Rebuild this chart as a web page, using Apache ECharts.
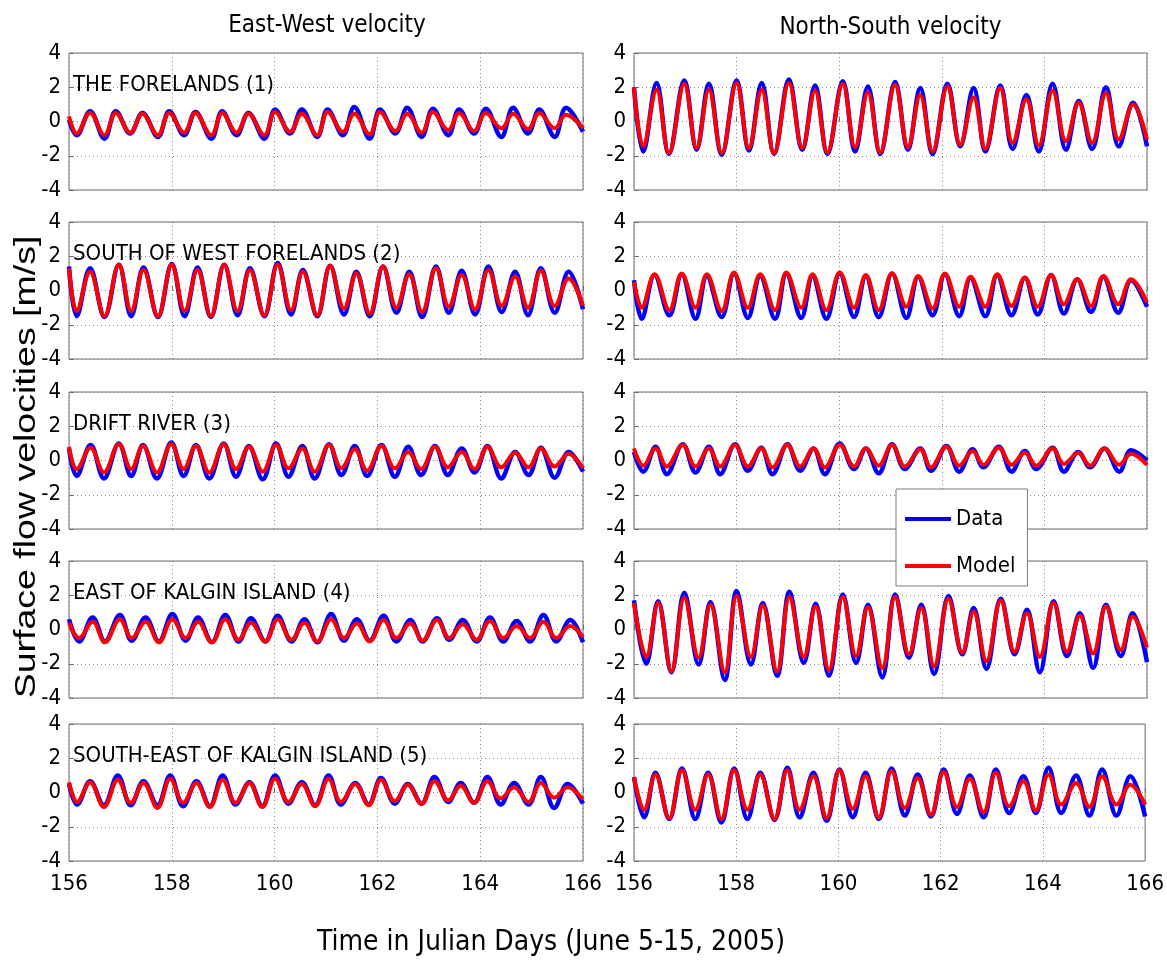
<!DOCTYPE html>
<html><head><meta charset="utf-8">
<script src="https://cdn.jsdelivr.net/npm/echarts@6/dist/echarts.min.js"></script>
<style>html,body{margin:0;padding:0;background:#fff}#c{width:1167px;height:967px}</style>
</head><body><div id="c"></div>
<script>
// ---- tick labels / text ----
const xTicks = [156, 158, 160, 162, 164, 166];
const yTicks = [-4, -2, 0, 2, 4];
const columnTitles = ['East-West velocity', 'North-South velocity'];
const stationNames = ['THE FORELANDS (1)', 'SOUTH OF WEST FORELANDS (2)', 'DRIFT RIVER (3)', 'EAST OF KALGIN ISLAND (4)', 'SOUTH-EAST OF KALGIN ISLAND (5)'];
const seriesNames = ['Data', 'Model'];

// ---- values: times (Julian day) of successive highs/lows, Data and Model velocities [m/s] ----
// Station 1, East-West
const tEW1 = [156.00,156.15,156.41,156.69,156.91,157.19,157.43,157.73,157.95,158.24,158.46,158.77,158.98,159.26,159.49,159.80,160.01,160.30,160.53,160.83,161.03,161.33,161.55,161.85,162.05,162.35,162.58,162.86,163.08,163.38,163.59,163.88,164.11,164.41,164.64,164.93,165.15,165.45,165.67,166.00];
const mEW1 = [0.3,-0.7,0.5,-0.8,0.5,-0.65,0.45,-0.8,0.5,-0.65,0.5,-0.8,0.5,-0.65,0.45,-0.8,0.55,-0.6,0.45,-0.8,0.55,-0.6,0.45,-0.75,0.55,-0.55,0.45,-0.65,0.55,-0.5,0.5,-0.55,0.5,-0.4,0.45,-0.45,0.5,-0.4,0.4,-0.4];
const dEW1 = [0.1,-0.8,0.6,-1.0,0.6,-0.7,0.5,-0.9,0.6,-0.8,0.55,-1.0,0.6,-0.8,0.5,-1.0,0.7,-0.7,0.7,-0.9,0.7,-0.8,0.85,-1.0,0.7,-0.7,0.8,-0.9,0.75,-0.8,0.7,-0.7,0.75,-0.9,0.8,-0.7,0.7,-0.9,0.8,-0.6];
// Station 1, North-South
const tNS1 = [156.00,156.18,156.44,156.68,156.98,157.22,157.46,157.71,158.00,158.24,158.49,158.73,159.02,159.28,159.53,159.77,160.07,160.31,160.56,160.80,161.09,161.34,161.58,161.82,162.11,162.36,162.62,162.85,163.14,163.38,163.65,163.89,164.16,164.42,164.67,164.93,165.20,165.45,165.73,166.00];
const mNS1 = [2.0,-1.45,1.85,-1.85,2.2,-1.55,1.85,-1.85,2.25,-1.55,1.85,-1.85,2.25,-1.55,1.8,-1.8,2.2,-1.5,1.7,-1.8,2.15,-1.5,1.55,-1.75,2.05,-1.35,1.4,-1.6,1.95,-1.25,1.3,-1.4,1.8,-1.15,1.1,-1.25,1.65,-1.05,1.0,-1.05];
const dNS1 = [2.0,-1.75,2.25,-1.9,2.4,-1.65,2.2,-1.95,2.4,-1.7,2.25,-1.9,2.45,-1.65,2.1,-1.9,2.35,-1.75,2.05,-1.9,2.3,-1.65,1.95,-1.9,2.2,-1.45,1.95,-1.75,2.1,-1.6,1.55,-1.75,2.2,-1.65,1.2,-1.6,2.0,-1.45,1.1,-1.45];
// Station 2, East-West
const tEW2 = [156.00,156.15,156.41,156.69,156.97,157.21,157.45,157.73,158.00,158.25,158.50,158.76,159.02,159.28,159.52,159.80,160.06,160.32,160.55,160.83,161.08,161.35,161.59,161.85,162.11,162.37,162.62,162.87,163.14,163.39,163.64,163.90,164.16,164.42,164.68,164.93,165.18,165.45,165.72,166.00];
const mEW2 = [1.3,-1.2,1.1,-1.5,1.5,-1.2,1.2,-1.5,1.5,-1.2,1.2,-1.5,1.5,-1.2,1.2,-1.45,1.5,-1.15,1.1,-1.45,1.45,-1.05,1.0,-1.35,1.4,-1.0,0.95,-1.25,1.3,-0.95,0.9,-1.1,1.2,-0.9,0.8,-1.0,1.15,-0.9,0.7,-0.9];
const dEW2 = [1.4,-1.5,1.3,-1.55,1.5,-1.5,1.35,-1.55,1.55,-1.5,1.35,-1.55,1.5,-1.45,1.3,-1.5,1.6,-1.4,1.2,-1.5,1.45,-1.4,1.1,-1.5,1.4,-1.3,1.1,-1.55,1.4,-1.3,1.15,-1.4,1.4,-1.25,1.1,-1.45,1.3,-1.3,1.1,-1.1];
// Station 2, North-South
const tNS2 = [156.00,156.15,156.40,156.69,156.93,157.20,157.42,157.71,157.95,158.22,158.46,158.75,158.97,159.26,159.48,159.75,160.01,160.29,160.52,160.77,161.03,161.31,161.54,161.82,162.06,162.34,162.56,162.85,163.08,163.36,163.62,163.87,164.13,164.38,164.64,164.91,165.15,165.44,165.69,166.00];
const mNS2 = [0.5,-1.0,0.95,-1.15,1.0,-1.0,0.95,-1.2,1.05,-1.0,0.95,-1.15,1.05,-1.0,0.95,-1.15,1.05,-1.0,0.9,-1.15,1.0,-0.95,0.85,-1.05,1.0,-0.95,0.8,-0.95,0.95,-0.9,0.75,-0.95,0.9,-0.8,0.65,-0.9,0.85,-0.8,0.65,-0.7];
const dNS2 = [0.6,-1.65,0.9,-1.45,0.95,-1.65,0.85,-1.55,1.0,-1.6,0.85,-1.65,1.0,-1.6,0.85,-1.65,1.0,-1.55,0.85,-1.55,1.0,-1.6,0.8,-1.45,0.95,-1.5,0.75,-1.5,0.9,-1.45,0.75,-1.4,0.9,-1.35,0.65,-1.25,0.8,-1.3,0.6,-0.95];
// Station 3, East-West
const tEW3 = [156.00,156.15,156.42,156.68,156.97,157.21,157.44,157.71,157.99,158.23,158.47,158.73,159.01,159.25,159.50,159.77,160.03,160.27,160.54,160.78,161.06,161.30,161.56,161.80,162.08,162.34,162.60,162.85,163.12,163.37,163.64,163.89,164.14,164.41,164.68,164.94,165.18,165.45,165.72,166.00];
const mEW3 = [0.8,-0.5,0.75,-0.7,0.95,-0.5,0.85,-0.7,0.95,-0.5,0.85,-0.7,0.95,-0.5,0.8,-0.65,0.9,-0.45,0.7,-0.65,0.9,-0.45,0.65,-0.6,0.85,-0.45,0.5,-0.5,0.8,-0.4,0.5,-0.5,0.8,-0.4,0.45,-0.4,0.7,-0.35,0.4,-0.45];
const dEW3 = [0.7,-0.9,0.9,-1.05,1.0,-0.9,0.9,-1.05,1.05,-0.9,0.9,-1.05,1.0,-0.95,0.85,-1.1,1.0,-0.95,0.85,-1.05,0.95,-0.85,0.85,-0.9,0.9,-0.95,0.8,-0.85,0.85,-0.85,0.7,-0.7,0.85,-1.05,0.5,-0.85,0.75,-1.0,0.5,-0.65];
// Station 3, North-South
const tNS3 = [156.00,156.18,156.42,156.64,156.95,157.20,157.46,157.68,157.97,158.22,158.48,158.70,158.99,159.24,159.50,159.72,160.01,160.29,160.52,160.77,161.03,161.28,161.58,161.79,162.09,162.34,162.60,162.81,163.11,163.36,163.62,163.84,164.16,164.38,164.66,164.89,165.17,165.46,165.69,166.00];
const mNS3 = [0.7,-0.3,0.7,-0.35,0.9,-0.35,0.7,-0.35,0.9,-0.35,0.7,-0.4,0.9,-0.35,0.7,-0.4,0.9,-0.35,0.7,-0.3,0.9,-0.35,0.65,-0.4,0.8,-0.3,0.55,-0.25,0.75,-0.25,0.45,-0.3,0.7,-0.2,0.45,-0.3,0.7,-0.25,0.4,-0.25];
const dNS3 = [0.5,-0.65,0.8,-0.8,0.95,-0.7,0.8,-0.8,0.95,-0.6,0.75,-0.8,0.95,-0.6,0.7,-0.8,1.0,-0.5,0.7,-0.75,0.95,-0.5,0.7,-0.6,0.85,-0.65,0.65,-0.4,0.8,-0.65,0.55,-0.5,0.75,-0.65,0.5,-0.4,0.7,-0.65,0.6,0.0];
// Station 4, East-West
const tEW4 = [156.00,156.20,156.46,156.70,156.99,157.22,157.49,157.75,158.01,158.27,158.51,158.78,159.04,159.30,159.54,159.82,160.06,160.33,160.58,160.83,161.10,161.35,161.60,161.85,162.12,162.37,162.64,162.88,163.16,163.40,163.66,163.93,164.19,164.45,164.71,164.97,165.23,165.48,165.75,166.00];
const mEW4 = [0.4,-0.5,0.45,-0.75,0.6,-0.5,0.45,-0.75,0.6,-0.5,0.45,-0.75,0.6,-0.6,0.4,-0.7,0.6,-0.6,0.4,-0.7,0.6,-0.5,0.35,-0.7,0.55,-0.5,0.35,-0.65,0.55,-0.5,0.3,-0.6,0.5,-0.5,0.2,-0.5,0.45,-0.5,0.2,-0.45];
const dEW4 = [0.6,-0.7,0.7,-0.7,0.85,-0.65,0.7,-0.7,0.9,-0.65,0.7,-0.75,0.85,-0.7,0.65,-0.7,0.8,-0.7,0.6,-0.75,0.9,-0.65,0.6,-0.65,0.8,-0.7,0.55,-0.7,0.65,-0.6,0.55,-0.7,0.7,-0.7,0.5,-0.7,0.85,-0.7,0.55,-0.75];
// Station 4, North-South
const tNS4 = [156.00,156.24,156.47,156.73,156.98,157.26,157.49,157.77,158.00,158.28,158.51,158.79,159.03,159.31,159.54,159.80,160.07,160.33,160.56,160.84,161.09,161.36,161.60,161.85,162.13,162.40,162.62,162.87,163.15,163.42,163.66,163.91,164.18,164.44,164.69,164.95,165.20,165.49,165.72,166.00];
const mNS4 = [1.55,-1.6,1.55,-2.45,1.85,-1.65,1.45,-2.5,1.95,-1.6,1.4,-2.45,1.9,-1.6,1.35,-2.35,1.9,-1.55,1.3,-2.25,1.9,-1.45,1.25,-2.15,1.8,-1.35,1.05,-1.85,1.7,-1.3,0.95,-1.6,1.55,-1.3,0.8,-1.4,1.35,-1.2,0.75,-1.05];
const dNS4 = [1.7,-2.0,1.65,-2.5,2.15,-2.05,1.6,-2.95,2.25,-2.05,1.55,-2.7,2.2,-1.95,1.5,-2.7,2.05,-1.95,1.45,-2.8,2.05,-1.65,1.45,-2.6,1.95,-1.45,1.25,-2.3,1.8,-1.45,1.15,-2.5,1.65,-1.55,0.95,-2.25,1.45,-1.55,0.95,-1.9];
// Station 5, East-West
const tEW5 = [156.00,156.16,156.41,156.68,156.95,157.20,157.45,157.72,157.97,158.22,158.48,158.74,158.99,159.24,159.51,159.76,160.01,160.27,160.53,160.79,161.05,161.29,161.57,161.83,162.07,162.34,162.59,162.86,163.11,163.38,163.62,163.88,164.14,164.40,164.66,164.94,165.18,165.44,165.70,166.00];
const mEW5 = [0.6,-0.55,0.6,-0.85,0.75,-0.6,0.55,-0.9,0.8,-0.6,0.55,-0.85,0.75,-0.6,0.55,-0.85,0.8,-0.55,0.5,-0.8,0.8,-0.55,0.5,-0.75,0.75,-0.5,0.45,-0.65,0.65,-0.45,0.4,-0.6,0.65,-0.35,0.3,-0.55,0.55,-0.3,0.3,-0.4];
const dEW5 = [0.5,-0.7,0.65,-0.75,1.0,-0.75,0.65,-0.75,1.0,-0.8,0.65,-0.8,1.0,-0.7,0.6,-0.8,1.0,-0.65,0.6,-0.75,1.0,-0.7,0.55,-0.7,0.85,-0.65,0.5,-0.65,0.9,-0.55,0.55,-0.6,0.9,-0.7,0.55,-0.7,0.9,-0.9,0.5,-0.65];
// Station 5, North-South
const tNS5 = [156.00,156.20,156.42,156.69,156.94,157.20,157.45,157.71,157.96,158.22,158.47,158.75,159.00,159.24,159.51,159.77,160.02,160.28,160.53,160.79,161.04,161.30,161.55,161.81,162.06,162.32,162.57,162.84,163.08,163.34,163.62,163.86,164.11,164.36,164.65,164.91,165.16,165.44,165.71,166.00];
const mNS5 = [0.9,-1.0,1.05,-1.5,1.3,-1.0,1.05,-1.55,1.3,-1.0,1.05,-1.55,1.3,-1.0,0.95,-1.5,1.3,-0.95,0.95,-1.45,1.25,-0.9,0.85,-1.3,1.2,-0.85,0.8,-1.15,1.15,-0.8,0.65,-1.05,1.05,-0.7,0.55,-0.85,0.95,-0.7,0.45,-0.7];
const dNS5 = [0.9,-1.45,1.15,-1.55,1.4,-1.55,1.15,-1.75,1.4,-1.55,1.15,-1.6,1.45,-1.45,1.15,-1.65,1.35,-1.45,1.15,-1.55,1.4,-1.35,1.05,-1.4,1.35,-1.25,1.0,-1.45,1.35,-1.2,0.95,-1.2,1.45,-1.2,1.0,-1.35,1.35,-1.35,0.95,-1.4];

// ---- layout ----
const NARROW = "'Liberation Sans Narrow','Arial Narrow','DejaVu Sans Condensed',sans-serif";
const colLeft = [69, 634];
const colWidth = [514, 513];
const rowTop = [53, 222, 392, 561, 724];
const rowHeight = 137;

const panels = [
  [tEW1, dEW1, mEW1], [tNS1, dNS1, mNS1],
  [tEW2, dEW2, mEW2], [tNS2, dNS2, mNS2],
  [tEW3, dEW3, mEW3], [tNS3, dNS3, mNS3],
  [tEW4, dEW4, mEW4], [tNS4, dNS4, mNS4],
  [tEW5, dEW5, mEW5], [tNS5, dNS5, mNS5]
];

const grids = [], xAxes = [], yAxes = [], series = [], graphics = [];
const frameColor = '#6e6e6e';
panels.forEach((p, i) => {
  const row = Math.floor(i / 2), col = i % 2;
  grids.push({left: colLeft[col], top: rowTop[row], width: colWidth[col], height: rowHeight,
    show: true, borderColor: frameColor, borderWidth: 1, backgroundColor: '#fff'});
  xAxes.push({type: 'value', gridIndex: i, min: xTicks[0], max: xTicks[xTicks.length - 1], interval: 2,
    axisLine: {show: false}, axisTick: {show: true, inside: true, length: 5, lineStyle: {color: frameColor}},
    axisLabel: {show: row === 4, fontSize: 22, color: '#000', fontFamily: NARROW, margin: 12},
    splitLine: {show: true, lineStyle: {type: [1, 3], color: '#8a8a8a', width: 1}}});
  yAxes.push({type: 'value', gridIndex: i, min: yTicks[0], max: yTicks[yTicks.length - 1], interval: 2,
    axisLine: {show: false}, axisTick: {show: true, inside: true, length: 5, lineStyle: {color: frameColor}},
    axisLabel: {show: true, fontSize: 22, color: '#000', fontFamily: NARROW, margin: 8},
    splitLine: {show: true, lineStyle: {type: [1, 3], color: '#8a8a8a', width: 1}}});
  const t = p[0];
  series.push({name: seriesNames[0], type: 'line', xAxisIndex: i, yAxisIndex: i, showSymbol: false, symbol: 'none',
    smooth: 0.38, data: t.map((x, k) => [x, p[1][k]]), lineStyle: {color: '#0000ff', width: 4.5}, itemStyle: {color: '#0000ff'}, z: 2, animation: false});
  series.push({name: seriesNames[1], type: 'line', xAxisIndex: i, yAxisIndex: i, showSymbol: false, symbol: 'none',
    smooth: 0.38, data: t.map((x, k) => [x, p[2][k]]), lineStyle: {color: '#ff0000', width: 4}, itemStyle: {color: '#ff0000'}, z: 3, animation: false});
  if (col === 0) {
    graphics.push({type: 'text', left: colLeft[0] + 4, top: rowTop[row] + rowHeight / 4 - 13, z: 10,
      style: {text: stationNames[row], font: "22px " + NARROW, fill: '#000'}});
  }
});

graphics.push({type: 'text', x: colLeft[0] + colWidth[0] / 2 + 1, y: 26, z: 10,
  style: {text: columnTitles[0], font: "24px " + NARROW, fill: '#000', align: 'center', verticalAlign: 'middle'}});
graphics.push({type: 'text', x: colLeft[1] + colWidth[1] / 2, y: 28, z: 10,
  style: {text: columnTitles[1], font: "24px " + NARROW, fill: '#000', align: 'center', verticalAlign: 'middle'}});
graphics.push({type: 'text', x: 27, y: 467, rotation: Math.PI / 2, scaleX: 1.25, scaleY: 1, z: 10,
  style: {text: 'Surface flow velocities [m/s]', font: "30px 'Liberation Sans',Arial,sans-serif", fill: '#000', align: 'center', verticalAlign: 'middle'}});
graphics.push({type: 'text', x: 551, y: 943, z: 10,
  style: {text: 'Time in Julian Days (June 5-15, 2005)', font: "28px " + NARROW, fill: '#000', align: 'center', verticalAlign: 'middle'}});

const chart = echarts.init(document.getElementById('c'), null, {renderer: 'canvas'});
chart.setOption({
  backgroundColor: '#fff',
  animation: false,
  grid: grids, xAxis: xAxes, yAxis: yAxes, series: series, graphic: graphics,
  legend: {data: seriesNames, orient: 'vertical', left: 896, top: 489, z: 20,
    backgroundColor: '#fff', borderColor: '#7a7a7a', borderWidth: 1, padding: [19, 12, 9, 9],
    itemGap: 25, itemWidth: 46, itemHeight: 14, icon: 'path://M0,6H46V10H0Z',
    textStyle: {fontSize: 22, fontFamily: NARROW, color: '#000'}}
});
</script></body></html>
